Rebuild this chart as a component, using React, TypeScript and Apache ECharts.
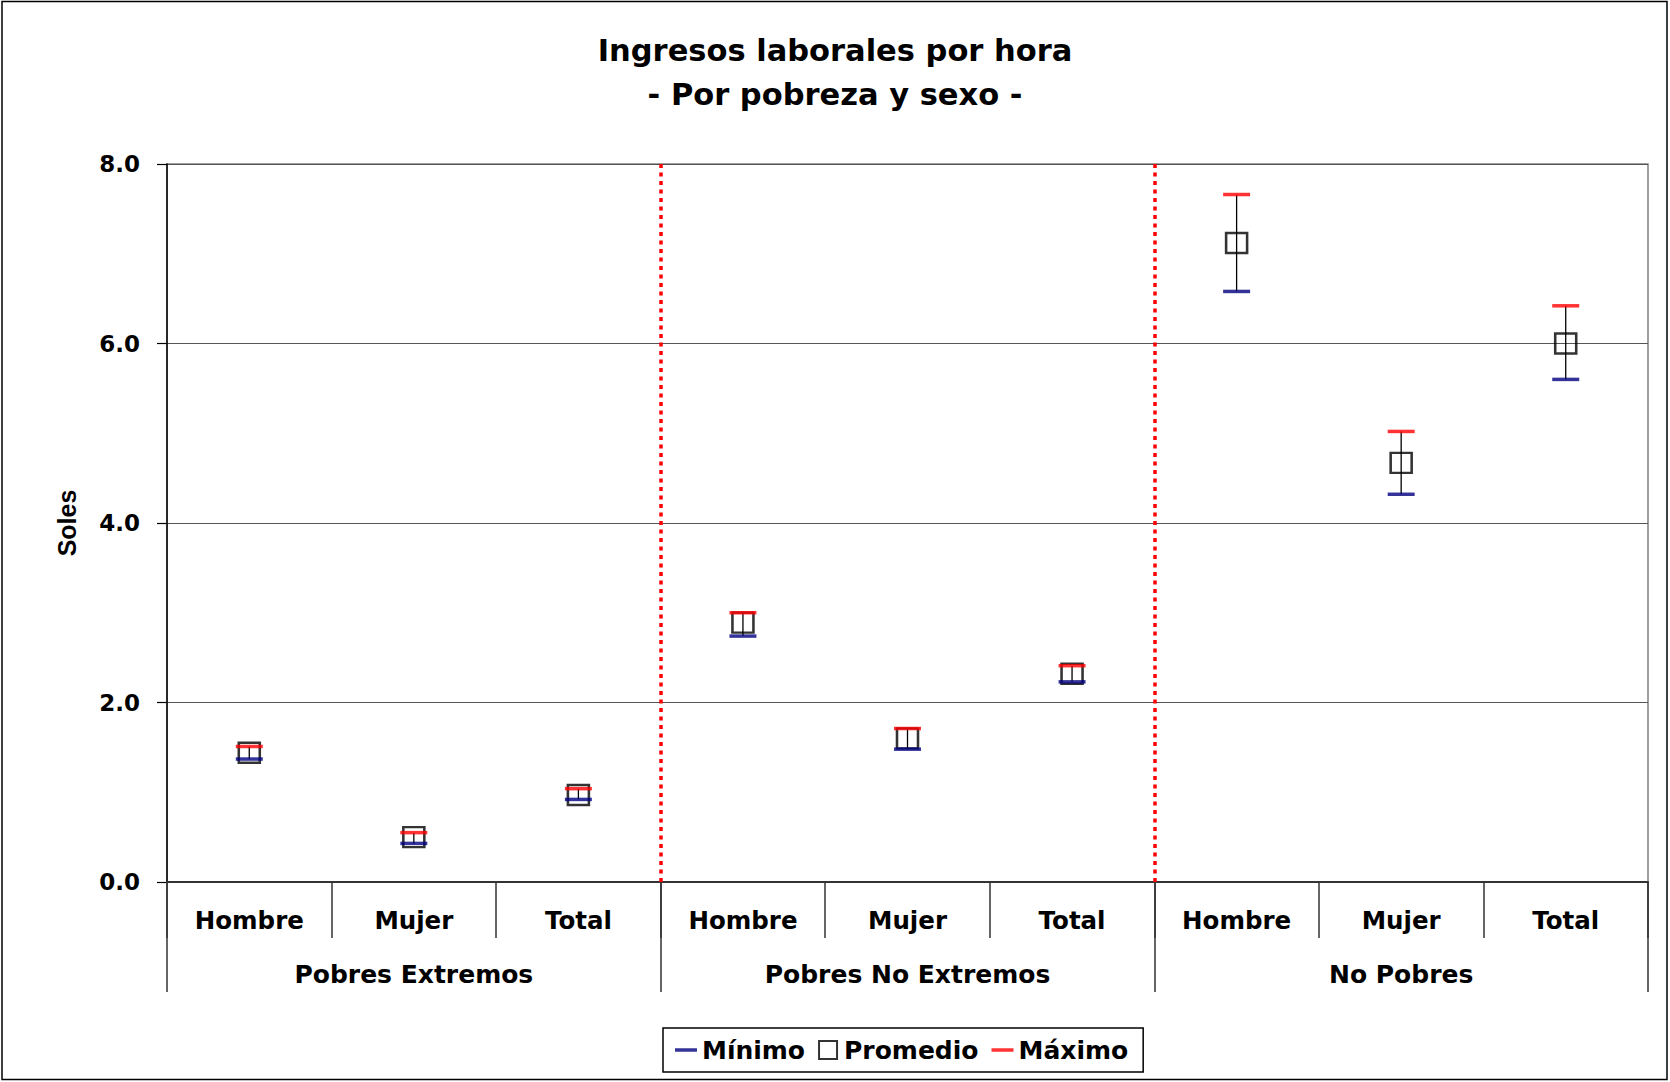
import React, { useEffect, useRef } from "react";
import * as echarts from "echarts";

const groups = ["Pobres Extremos", "Pobres No Extremos", "No Pobres"];
const sexes = ["Hombre", "Mujer", "Total"];
const categories = groups.flatMap(() => sexes);

const minimo = [1.37, 0.43, 0.92, 2.74, 1.48, 2.23, 6.58, 4.32, 5.6];
const promedio = [1.44, 0.5, 0.97, 2.89, 1.6, 2.32, 7.12, 4.67, 6.0];
const maximo = [1.51, 0.55, 1.04, 3.0, 1.71, 2.41, 7.66, 5.02, 6.42];

const groupBoundaries = [3, 6];

const BOLD = { fontFamily: "DejaVu Sans", fontWeight: "bold" as const, color: "#000" };

export default function App() {
  const ref = useRef<HTMLDivElement>(null);
  useEffect(() => {
    if (!ref.current) return;
    const chart = echarts.init(ref.current, null, { renderer: "svg" });
    const option: any = {
      animation: false,
      backgroundColor: "#fff",
      title: {
        text: "Ingresos laborales por hora\n- Por pobreza y sexo -",
        left: "center",
        top: 29,
        padding: 0,
        textStyle: { ...BOLD, fontSize: 30.5, lineHeight: 43.4 },
      },
      graphic: [
        {
          type: "rect",
          shape: { x: 2, y: 1.5, width: 1665, height: 1078 },
          style: { fill: "none", stroke: "#000", lineWidth: 1.5 },
          silent: true,
        },
      ],
      grid: {
        left: 167,
        right: 22,
        top: 164,
        bottom: 200,
        show: true,
        borderColor: "#808080",
        borderWidth: 1.5,
        backgroundColor: "transparent",
        outerBoundsMode: "none",
      },
      legend: {
        left: 663,
        top: 1028,
        orient: "horizontal",
        padding: [8, 15, 8, 12],
        itemGap: 13,
        itemWidth: 22,
        itemHeight: 18,
        borderColor: "#000",
        borderWidth: 1.5,
        symbolKeepAspect: true,
        selectedMode: false,
        textStyle: { ...BOLD, fontSize: 25, lineHeight: 28 },
        data: [
          { name: "Mínimo", icon: "path://M0,0H22V3.5H0Z" },
          {
            name: "Promedio",
            icon: "path://M0,0H18V18H0Z",
            itemStyle: { color: "rgba(0,0,0,0)", borderColor: "#000", borderWidth: 2 },
          },
          { name: "Máximo", icon: "path://M0,0H22V3.5H0Z" },
        ],
      },
      xAxis: [
        {
          type: "category",
          data: categories,
          position: "bottom",
          axisLine: { show: true, lineStyle: { color: "#333", width: 2 } },
          axisTick: { show: true, length: 56, lineStyle: { color: "#333", width: 1.5 } },
          axisLabel: { ...BOLD, fontSize: 24.5, lineHeight: 30, margin: 23, interval: 0 },
          splitLine: { show: false },
        },
        {
          type: "category",
          data: groups,
          position: "bottom",
          axisLine: { show: false },
          axisTick: { show: true, length: 110, lineStyle: { color: "#333", width: 1.5 } },
          axisLabel: { ...BOLD, fontSize: 25, lineHeight: 30, margin: 77, interval: 0 },
          splitLine: { show: false },
        },
        {
          type: "value",
          min: 0,
          max: 9,
          position: "bottom",
          show: false,
        },
      ],
      yAxis: {
        type: "value",
        min: 0,
        max: 8,
        interval: 2,
        name: "Soles",
        nameLocation: "middle",
        nameGap: 88,
        nameRotate: 90,
        nameTextStyle: { fontFamily: "Liberation Sans", fontWeight: "bold", fontSize: 25, color: "#000" },
        axisLine: { show: true, onZero: false, lineStyle: { color: "#000", width: 1.5 } },
        axisTick: { show: true, length: 10, lineStyle: { color: "#000", width: 1.2 } },
        axisLabel: {
          ...BOLD,
          fontSize: 23,
          margin: 27,
          formatter: (v: number) => v.toFixed(1),
        },
        splitLine: { show: true, lineStyle: { color: "#555", width: 1.2 } },
      },
      series: [
        {
          name: "sep",
          type: "line",
          xAxisIndex: 2,
          data: [],
          silent: true,
          markLine: {
            silent: true,
            symbol: ["none", "none"],
            label: { show: false },
            lineStyle: { color: "#ff0000", type: [4, 4.5], width: 3.5 },
            data: groupBoundaries.map((b) => ({ xAxis: b })),
          },
        },
        {
          name: "rango",
          type: "custom",
          xAxisIndex: 0,
          data: minimo.map((v, i) => [i, v, maximo[i]]),
          encode: { x: 0, y: [1, 2] },
          renderItem: (params: any, api: any) => {
            const x = api.value(0);
            const lo = api.coord([x, api.value(1)]);
            const hi = api.coord([x, api.value(2)]);
            return {
              type: "line",
              shape: { x1: lo[0], y1: lo[1], x2: hi[0], y2: hi[1] },
              style: { stroke: "#000", lineWidth: 1.3 },
            };
          },
          z: 2,
        },
        {
          name: "Promedio",
          type: "scatter",
          xAxisIndex: 0,
          data: promedio,
          symbol: "rect",
          symbolSize: [21, 20],
          itemStyle: { color: "rgba(0,0,0,0)", borderColor: "#000", borderWidth: 2.5 },
          z: 3,
        },
        {
          name: "Mínimo",
          type: "scatter",
          xAxisIndex: 0,
          data: minimo,
          symbol: "rect",
          symbolSize: [27, 3.5],
          itemStyle: { color: "#000080" },
          z: 4,
        },
        {
          name: "Máximo",
          type: "scatter",
          xAxisIndex: 0,
          data: maximo,
          symbol: "rect",
          symbolSize: [27, 3.5],
          itemStyle: { color: "#ff0000" },
          z: 5,
        },
      ],
    };
    chart.setOption(option);
    return () => chart.dispose();
  }, []);
  return (
    <div
      ref={ref}
      style={{ position: "absolute", left: 0, top: 0, width: 1670, height: 1082 }}
    />
  );
}
